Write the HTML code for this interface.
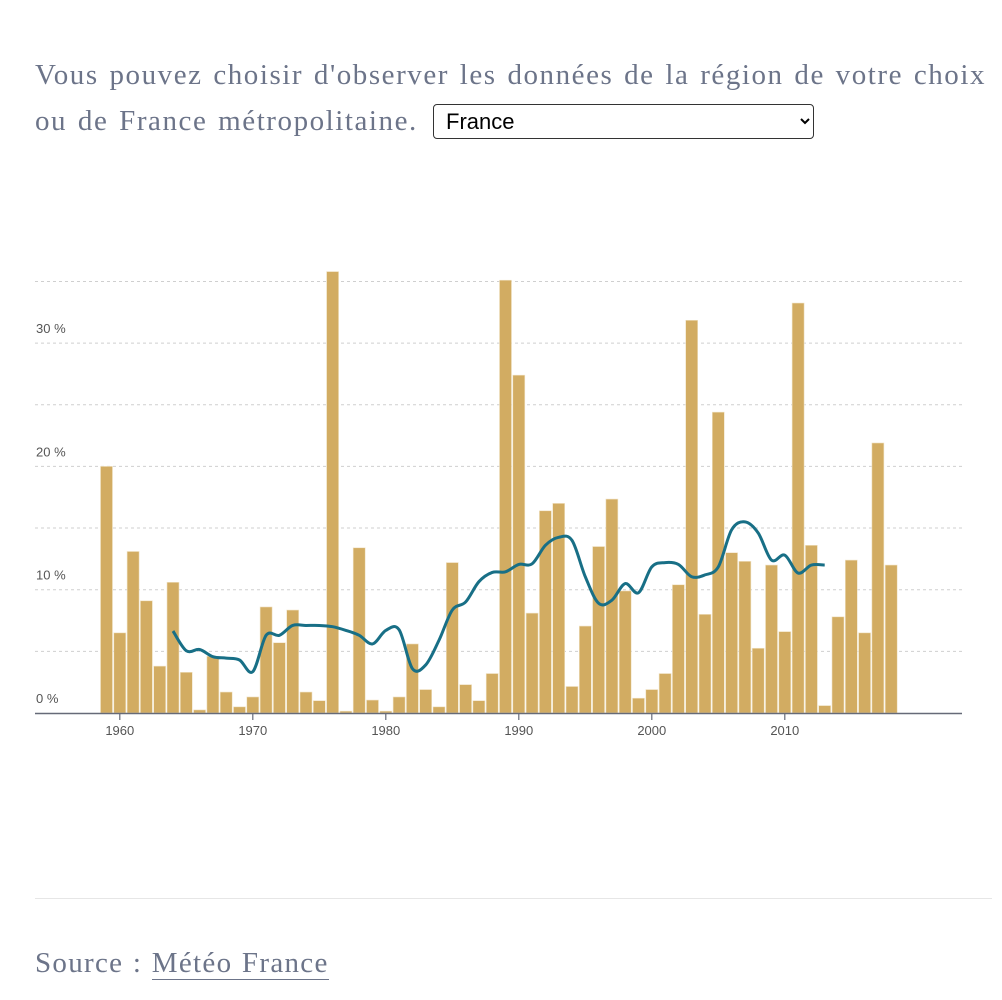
<!DOCTYPE html>
<html><head><meta charset="utf-8">
<style>
body{margin:0;background:#fff;width:1002px;height:1000px;overflow:hidden;font-family:"Liberation Serif",serif;}
.intro{position:absolute;left:35px;top:52px;color:#6c7489;font-size:29px;line-height:46px;white-space:nowrap;letter-spacing:1.55px;word-spacing:2px}
select{position:absolute;left:433px;top:104px;width:381px;height:35px;font-family:"Liberation Sans",sans-serif;font-size:22px;border:1px solid #333;border-radius:4px;background:#fff;color:#000;padding-left:8px}
.rule{position:absolute;left:35px;top:898px;width:957px;height:1px;background:#e6e6e6}
.source{position:absolute;left:35px;top:947px;color:#6c7489;font-size:29px;letter-spacing:1.3px;word-spacing:1px}
.source a{color:#6c7489;text-decoration:none;border-bottom:1.5px solid #6c7489}
svg{position:absolute;left:0;top:0}
</style></head><body>
<div class="intro">Vous pouvez choisir d'observer les données de la région de votre choix<br>ou de France métropolitaine.</div>
<select><option>France</option></select>
<svg id="chart" width="1002" height="900"></svg>
<div class="rule"></div>
<div class="source">Source : <a>Météo France</a></div>
<script>
const years = [];
for (let y = 1959; y <= 2018; y++) years.push(y);
const values = [20.0,6.5,13.1,9.1,3.8,10.6,3.3,0.25,4.6,1.7,0.5,1.3,8.6,5.7,8.35,1.7,1.0,35.8,0.15,13.4,1.05,0.15,1.3,5.6,1.9,0.5,12.2,2.3,1.0,3.2,35.1,27.4,8.1,16.4,17.0,2.15,7.05,13.5,17.35,9.9,1.2,1.9,3.2,10.4,31.85,8.0,24.4,13.0,12.3,5.25,12.0,6.6,33.25,13.6,0.6,7.8,12.4,6.5,21.9,12.0];
const avgYears = [];
for (let y = 1964; y <= 2013; y++) avgYears.push(y);
const avgValues = [6.65,5.05,5.15,4.57,4.45,4.3,3.35,6.3,6.3,7.1,7.1,7.1,7.0,6.7,6.3,5.6,6.7,6.75,3.6,3.9,5.9,8.35,9.0,10.65,11.4,11.45,12.05,12.1,13.6,14.25,14.0,11.05,8.9,9.15,10.5,9.75,11.85,12.2,12.05,11.05,11.2,11.85,14.85,15.5,14.6,12.4,12.8,11.35,12.0,12.0];
const gridTicks = [5,10,15,20,25,30,35];
const yLabels = [0,10,20,30];
const xTicks = [1960,1970,1980,1990,2000,2010];

const NS = "http://www.w3.org/2000/svg";
const svg = document.getElementById('chart');
const x = y => 106.5 + (y - 1959) * 13.3;
const yS = v => 713 - v * 12.33;
function mk(t, a){const e=document.createElementNS(NS,t);for(const k in a)e.setAttribute(k,a[k]);svg.appendChild(e);return e;}

gridTicks.forEach(v=>{
  const l = mk('line',{x1:35,x2:962,y1:yS(v),y2:yS(v),stroke:'#cfcfcf','stroke-dasharray':'3,3','stroke-width':1});
  
  
});
yLabels.forEach(v=>{
  const t = mk('text',{x:36,y:yS(v)-10,'font-family':'Liberation Sans, sans-serif','font-size':13,fill:'#555'});
  t.textContent = v + ' %';
  
  
});
years.forEach((yr,i)=>{
  const r = mk('rect',{x:x(yr)-6,y:yS(values[i]),width:12,height:713-yS(values[i]),fill:'#d2ac62',stroke:'#f1e3c6','stroke-width':0.6});
  
  
});
const ax = mk('line',{x1:35,x2:962,y1:713.5,y2:713.5,stroke:'#666a78','stroke-width':1.5});


xTicks.forEach(yr=>{
  const tk = mk('line',{x1:x(yr),x2:x(yr),y1:713,y2:720,stroke:'#666a78','stroke-width':1.2});
  
  
  const t = mk('text',{x:x(yr),y:735,'text-anchor':'middle','font-family':'Liberation Sans, sans-serif','font-size':13,fill:'#555'});
  t.textContent = yr;
  
  
});
const pts = avgYears.map((yr,i)=>[x(yr), yS(avgValues[i])]);
let d = 'M'+pts[0][0]+','+pts[0][1];
for(let i=0;i<pts.length-1;i++){
  const p0=pts[Math.max(0,i-1)],p1=pts[i],p2=pts[i+1],p3=pts[Math.min(pts.length-1,i+2)];
  const c1=[p1[0]+(p2[0]-p0[0])/6,p1[1]+(p2[1]-p0[1])/6];
  const c2=[p2[0]-(p3[0]-p1[0])/6,p2[1]-(p3[1]-p1[1])/6];
  d+=' C'+c1[0]+','+c1[1]+' '+c2[0]+','+c2[1]+' '+p2[0]+','+p2[1];
}
const path = mk('path',{d:d,fill:'none',stroke:'#186f86','stroke-width':3,'stroke-linejoin':'round'});


</script>
</body></html>
